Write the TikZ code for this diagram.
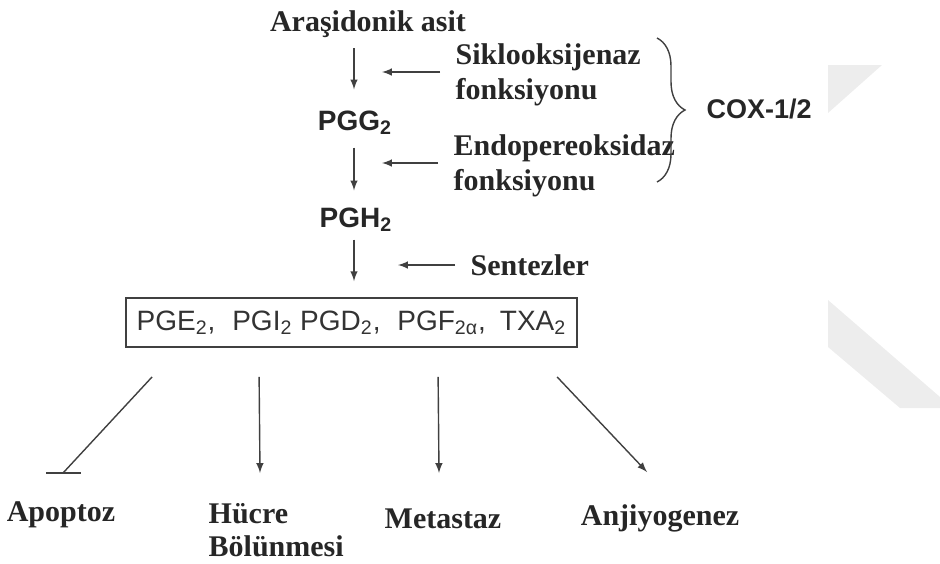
\documentclass[tikz,border=0pt]{standalone}
\usepackage{fontspec}
\setmainfont{Liberation Serif}
\setsansfont{Liberation Sans}
\usetikzlibrary{decorations.pathreplacing,calc}

\begin{document}
\begin{tikzpicture}[>=latex,x=0.5pt,y=-0.5pt,line width=0.7pt,draw=black!75,
		txt/.style={font=\bfseries\fontsize{15}{17.5}\selectfont,text=black!85,align=left,inner sep=4pt},
		pg/.style={font=\sffamily\bfseries\fontsize{14}{16}\selectfont,text=black!85,inner sep=1pt},
		prodbox/.style={draw,line width=0.9pt,minimum width=225.5pt,minimum height=24.5pt,
			font=\sffamily\fontsize{14}{16}\selectfont,text=black!80}]
	\useasboundingbox (0,0) rectangle (940,563);
	\fill [black!7] (828,65) -- (882,65) -- (828,113) -- cycle;
	\fill [black!7] (828,300) -- (940,397) -- (940,408) -- (900,408) -- (828,347) -- cycle;

	\node [txt] (Acid) at (368,24) {Araşidonik asit};
	\node [pg] (PGG) at (355,123) {PGG\textsubscript{2}};
	\node [pg] (PGH) at (356,220) {PGH\textsubscript{2}};
	\node [prodbox] (Prod) at (351.5,322.5) {PGE\textsubscript{2},\hspace{0.6em}PGI\textsubscript{2} PGD\textsubscript{2},\hspace{0.6em}PGF\textsubscript{2α},\hspace{0.5em}TXA\textsubscript{2}};
	\coordinate (Axis) at (354,0);

	\draw [->,shorten <=1pt,shorten >=9.5pt] (Acid.south -| Axis) -- (PGG.north -| Axis);
	\draw [->,shorten <=5pt,shorten >=7.5pt] (PGG.south -| Axis) -- (PGH.north -| Axis);
	\draw [->,shorten <=2.5pt,shorten >=8pt] (PGH.south -| Axis) -- (Prod.north -| Axis);

	\node [txt,anchor=west] (Sik) at (447,75) {Siklooksijenaz\\fonksiyonu};
	\node [txt,anchor=west] (Endo) at (445,165.5) {Endopereoksidaz\\fonksiyonu};
	\node [txt,anchor=west] (Sent) at (462,265) {Sentezler};
	\draw [->,shorten <=3.5pt,shorten >=14pt] ([yshift=1.5pt]Sik.west) -- ([yshift=1.5pt]Sik.west -| Axis);
	\draw [->,shorten <=3.5pt,shorten >=14pt] ([yshift=1.25pt]Endo.west) -- ([yshift=1.25pt]Endo.west -| Axis);
	\draw [->,shorten <=3.5pt,shorten >=22pt] (Sent.west) -- (Sent.west -| Axis);

	\draw [decorate,decoration={brace,amplitude=14pt}] (657,38) -- (657,182);
	\node [pg,anchor=west,font=\sffamily\bfseries\fontsize{13.5}{16}\selectfont] (Cox) at (704,109) {COX-1/2};

	\node [txt] (Apo) at (61,515) {Apoptoz};
	\node [txt,anchor=west,inner sep=1pt,font=\bfseries\fontsize{15}{16.5}\selectfont] (Hucre) at (206,530.5) {Hücre\\Bölünmesi};
	\node [txt] (Meta) at (443,519) {Metastaz};
	\node [txt] (Anji) at (660,518) {Anjiyogenez};

	\coordinate (ApoBar) at (63,473);
	\coordinate (HucreTip) at (260,473);
	\coordinate (MetaTip) at (439,473);
	\coordinate (AnjiTip) at (647,472);
	\draw ($(Prod.south west)+(27,29)$) -- (ApoBar);
	\draw [line width=1.1pt] ([xshift=-8.5pt]ApoBar) -- ([xshift=9pt]ApoBar);
	\foreach \dx/\tip in {134/HucreTip,313/MetaTip,432/AnjiTip}
		\draw [->] ($(Prod.south west)+(\dx,29)$) -- (\tip);
\end{tikzpicture}
\end{document}
